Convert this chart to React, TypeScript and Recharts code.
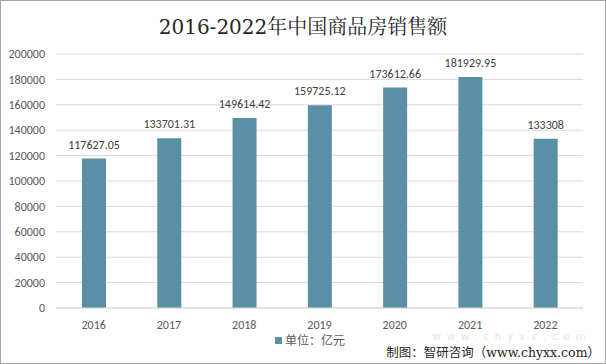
import React from "react";
import { BarChart, Bar, XAxis, YAxis, CartesianGrid, LabelList } from "recharts";

const years = ["2016", "2017", "2018", "2019", "2020", "2021", "2022"];
const sales = [117627.05, 133701.31, 149614.42, 159725.12, 173612.66, 181929.95, 133308];
const yTicks = [0, 20000, 40000, 60000, 80000, 100000, 120000, 140000, 160000, 180000, 200000];
const seriesName = "单位：亿元";
const title = "2016-2022年中国商品房销售额";
const source = "制图：智研咨询（www.chyxx.com）";

const data = years.map((y, i) => ({ year: y, value: sales[i] }));
const BAR = "#5b8fa6";
const SANS = "Calibri, Carlito, 'Open Sans', 'Noto Sans CJK SC', sans-serif";

export default function App() {
  return (
    <div style={{ position: "absolute", left: 0, top: 0, width: 606, height: 364, background: "#fff" }}>
      <div style={{ position: "absolute", left: 0, top: 0, width: 604, height: 362, border: "1px solid #a6a6a6" }} />
      <BarChart width={606} height={364} data={data} margin={{ top: 54, right: 23, bottom: 36, left: 0 }}>
        <text x={303} y={34} textAnchor="middle" fontFamily="'DejaVu Serif', 'Noto Serif CJK SC', 'Noto Sans CJK SC', serif" fontSize={20} fill="#262626">
          {title}
        </text>
        <text x={512} y={340} textAnchor="middle" fontFamily="'DejaVu Sans', sans-serif" fontSize={10} letterSpacing={6} fill="#e3e6ea">
          www.chyxx.com
        </text>
        <CartesianGrid vertical={false} stroke="#d9d9d9" />
        <XAxis dataKey="year" axisLine={{ stroke: "#d9d9d9" }} tickLine={false} height={20} tick={{ fontSize: 12, fill: "#595959", fontFamily: SANS }} dy={4} />
        <YAxis width={56} ticks={yTicks} domain={[0, 200000]} axisLine={false} tickLine={false} interval={0} tick={{ fontSize: 12, fill: "#595959", fontFamily: SANS }} dx={-3} />
        <Bar dataKey="value" name={seriesName} fill={BAR} barSize={24} isAnimationActive={false}>
          <LabelList dataKey="value" position="top" offset={10} style={{ fontSize: 12, fill: "#404040", fontFamily: SANS }} />
        </Bar>
        <rect x={275} y={337} width={7} height={7} fill={BAR} />
        <text x={285} y={345} fontFamily="'Noto Sans CJK SC', sans-serif" fontSize={12} fill="#595959">
          {seriesName}
        </text>
        <text x={600} y={357} textAnchor="end" fontFamily="'DejaVu Serif', 'Noto Sans CJK SC', serif" fontSize={12.5} fill="#262626">
          {source}
        </text>
      </BarChart>
    </div>
  );
}
